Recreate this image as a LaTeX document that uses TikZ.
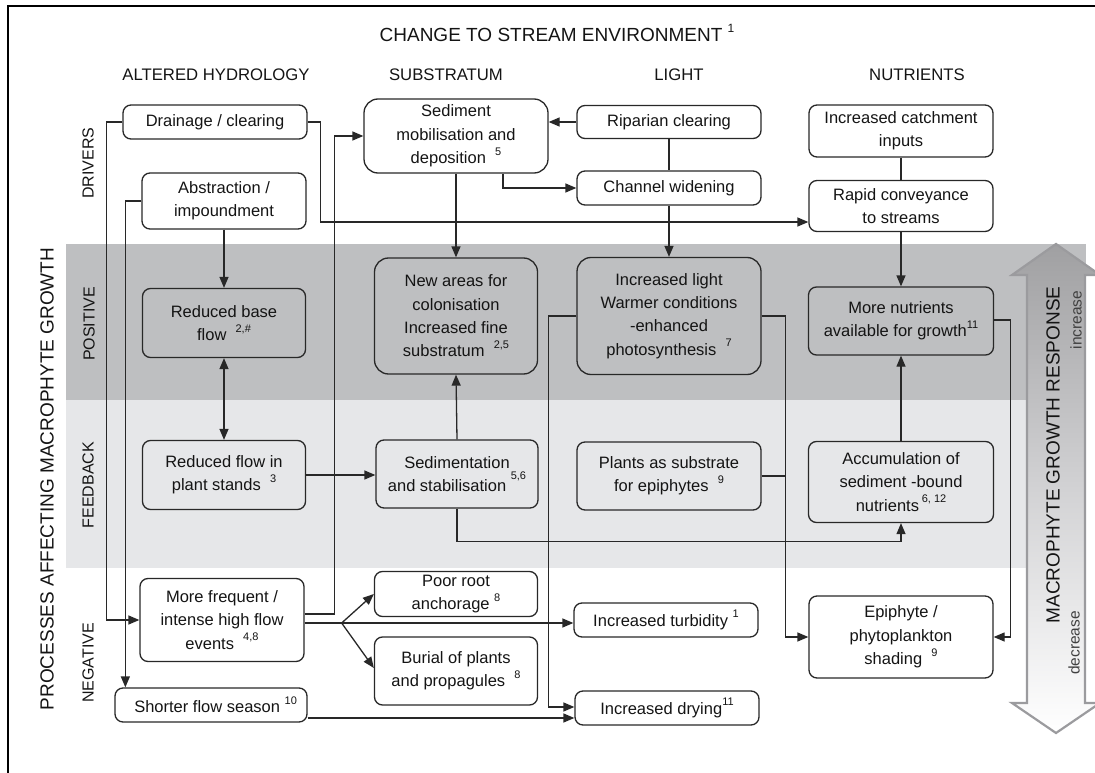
\documentclass[tikz,border=0pt]{standalone}
\usepackage{fontspec}
\setmainfont{Liberation Sans}
\usetikzlibrary{arrows.meta}
\definecolor{posband}{RGB}{190,191,193}
\definecolor{fbband}{RGB}{230,231,233}
\definecolor{boxline}{RGB}{40,40,40}
\definecolor{txt}{RGB}{20,20,20}
\definecolor{arrtop}{RGB}{160,160,162}
\definecolor{arrmid}{RGB}{210,210,212}
\definecolor{arrline}{RGB}{155,155,158}
\newcommand\ssup[1]{\raisebox{0.5em}{\fontsize{11}{11}\selectfont #1}}
\begin{document}
\begin{tikzpicture}[x=1pt,y=-1pt,
  every node/.style={text=txt, font=\fontsize{16.5}{23.3}\selectfont},
  bx/.style={draw=boxline, line width=1.3pt, rounded corners=8pt, align=center, inner sep=0pt},
  bigbx/.style={bx, rounded corners=14pt},
  ln/.style={draw=boxline, line width=1.3pt},
  arr/.style={ln, -{Triangle[length=11pt,width=9pt]}},
  dblarr/.style={ln, {Triangle[length=11pt,width=9pt]}-{Triangle[length=11pt,width=9pt]}},
  rowlab/.style={rotate=90, font=\fontsize{16}{16}\selectfont},
  hdr/.style={font=\fontsize{16.7}{17}\selectfont},
  big/.style={font=\fontsize{19}{19}\selectfont},
]
\useasboundingbox (0,0) rectangle (1095,773);
% bands
\fill[posband] (66,244) rectangle (1086,400);
\fill[fbband] (66,400) rectangle (1086,568);
% frame
\draw[line width=2.5pt, black] (8,773) -- (8,6) -- (1096,6);
% big response arrow
\path[draw=arrline, line width=2.2pt, top color=arrtop, bottom color=white, middle color=arrmid]
  (1056,244) -- (1100,275) -- (1085,275) -- (1085,703) -- (1100,703) -- (1056,733)
  -- (1012,703) -- (1027,703) -- (1027,275) -- (1012,275) -- cycle;
\node[big, rotate=90] (resp) at (1053,455) {MACROPHYTE GROWTH RESPONSE};
\node[rotate=90, font=\fontsize{15.5}{15.5}\selectfont, text=black!75] (incr) at (1076,320) {increase};
\node[rotate=90, font=\fontsize{15.5}{15.5}\selectfont, text=black!75] (decr) at (1074,643) {decrease};
% titles
\node[big] (title) at (557,33) {CHANGE TO STREAM ENVIRONMENT~\raisebox{9pt}{\fontsize{12}{12}\selectfont 1}};
\node[hdr] (h1) at (216,75) {ALTERED HYDROLOGY};
\node[hdr] (h2) at (446,75) {SUBSTRATUM};
\node[hdr] (h3) at (679,75) {LIGHT};
\node[hdr] (h4) at (917,75) {NUTRIENTS};
\node[big, rotate=90] (proc) at (47,479) {PROCESSES AFFECTING MACROPHYTE GROWTH};
\node[rowlab] (r1) at (88,163) {DRIVERS};
\node[rowlab] (r2) at (89,324) {POSITIVE};
\node[rowlab] (r3) at (88,485) {FEEDBACK};
\node[rowlab] (r4) at (88,663) {NEGATIVE};
% boxes
\node[bx, minimum width=184pt, minimum height=34pt] (drain) at (215,122) {Drainage / clearing};
\node[bx, minimum width=164pt, minimum height=56pt] (abst) at (224,201) {Abstraction /\\impoundment};
\node[bigbx, minimum width=184pt, minimum height=74pt] (sedim) at (456,136) {Sediment\\mobilisation and\\deposition~~\ssup{5}};
\node[bx, minimum width=184pt, minimum height=33pt] (ripar) at (669,122) {Riparian clearing};
\node[bx, minimum width=184pt, minimum height=34pt] (chan) at (669,188) {Channel widening};
\node[bx, minimum width=184pt, minimum height=52pt] (catch) at (901,131) {Increased catchment\\inputs};
\node[bx, minimum width=184pt, minimum height=51pt] (rapid) at (901,206) {Rapid conveyance\\to streams};
\node[bx, minimum width=163pt, minimum height=69pt] (rbase) at (224,323) {Reduced base\\flow~~\ssup{2,\#}};
\node[bigbx, minimum width=163pt, minimum height=116pt] (newar) at (456,316) {New areas for\\colonisation\\Increased fine\\substratum~~\ssup{2,5}};
\node[bigbx, minimum width=184pt, minimum height=117pt] (light) at (669,316) {Increased light\\Warmer conditions\\-enhanced\\photosynthesis~~\ssup{7}};
\node[bx, minimum width=185pt, minimum height=68pt] (morenut) at (901,321) {More nutrients\\available for growth\ssup{11}};
\node[bx, minimum width=163pt, minimum height=69pt] (rflow) at (224,475) {Reduced flow in\\plant stands~~\ssup{3}};
\node[bx, minimum width=162pt, minimum height=68pt] (sedst) at (457,474) {Sedimentation\\and stabilisation~\raisebox{0.75em}{\fontsize{11}{11}\selectfont 5,6}};
\node[bx, minimum width=184pt, minimum height=68pt] (plants) at (669,476) {Plants as substrate\\for epiphytes~~\ssup{9}};
\node[bx, minimum width=185pt, minimum height=81pt] (accum) at (901,482) {Accumulation of\\sediment -bound\\nutrients\,\ssup{6, 12}};
\node[bx, minimum width=164pt, minimum height=83pt] (morefreq) at (222,620) {More frequent /\\intense high flow\\events~~\ssup{4,8}};
\node[bx, minimum width=163pt, minimum height=45pt] (poor) at (456,594) {Poor root\\anchorage~\ssup{8}};
\node[bx, minimum width=163pt, minimum height=68pt] (burial) at (456,671) {Burial of plants\\and propagules~~\ssup{8}};
\node[bx, minimum width=192pt, minimum height=34pt] (shorter) at (211,705) {~~Shorter flow season~\ssup{10}};
\node[bx, minimum width=184pt, minimum height=34pt] (turb) at (666,620) {Increased turbidity~\ssup{1}};
\node[bx, minimum width=184pt, minimum height=34pt] (drying) at (667,708) {Increased drying\ssup{11}};
\node[bx, minimum width=184pt, minimum height=82pt] (epi) at (901,637) {Epiphyte /\\phytoplankton\\shading~~\ssup{9}};
% connectors
\draw[arr] (drain.west) -- ++(-16,0) |- (morefreq.west);
\draw[arr] (drain.east) -- ++(13,0) |- ([yshift=-16pt]rapid.west);
\draw[arr] (abst.west) -| ([xshift=11pt]shorter.north west);
\draw[arr] (abst.south) -- (rbase.north);
\draw[dblarr] (rbase.south) -- (rflow.north);
\draw[arr] (rflow.east) -- (sedst.west |- rflow.east);
\draw[arr] ([yshift=6pt]morefreq.east) -- ++(30,0) |- (sedim.west);
\coordinate (br) at ([xshift=37pt,yshift=-3pt]morefreq.east);
\draw[ln] ([yshift=-3pt]morefreq.east) -- (br);
\draw[arr] (br) -- (turb.west |- br);
\draw[arr] (br) -- (poor.west);
\draw[arr] (br) -- ([yshift=3pt]burial.west);
\draw[arr] (sedim.south) -- (newar.north);
\draw[arr] ([xshift=47pt]sedim.south) |- (chan.west);
\draw[arr] (ripar.west) -- (sedim.east |- ripar.west);
\draw[ln] (ripar.south) -- (chan.north);
\draw[arr] (chan.south) -- (light.north);
\draw[ln] (catch.south) -- (rapid.north);
\draw[arr] (rapid.south) -- (morenut.north);
\draw[arr] (sedst.north) -- (newar.south);
\draw[arr] (sedst.south) -- ++(0,33) -| (accum.south);
\draw[arr] (accum.north) -- (morenut.south);
\draw[arr] (light.west) -- ++(-28,0) |- ([yshift=1pt]drying.west);
\draw[arr] ([yshift=-13pt]shorter.east) -- ([yshift=-10pt]drying.west);
\draw[arr] (light.east) -- ++(24,0) |- (epi.west);
\draw[ln] (plants.east) -- ++(24,0);
\draw[arr] ([yshift=1pt]morenut.east) -- ++(16,0) |- (epi.east);
\end{tikzpicture}
\end{document}
